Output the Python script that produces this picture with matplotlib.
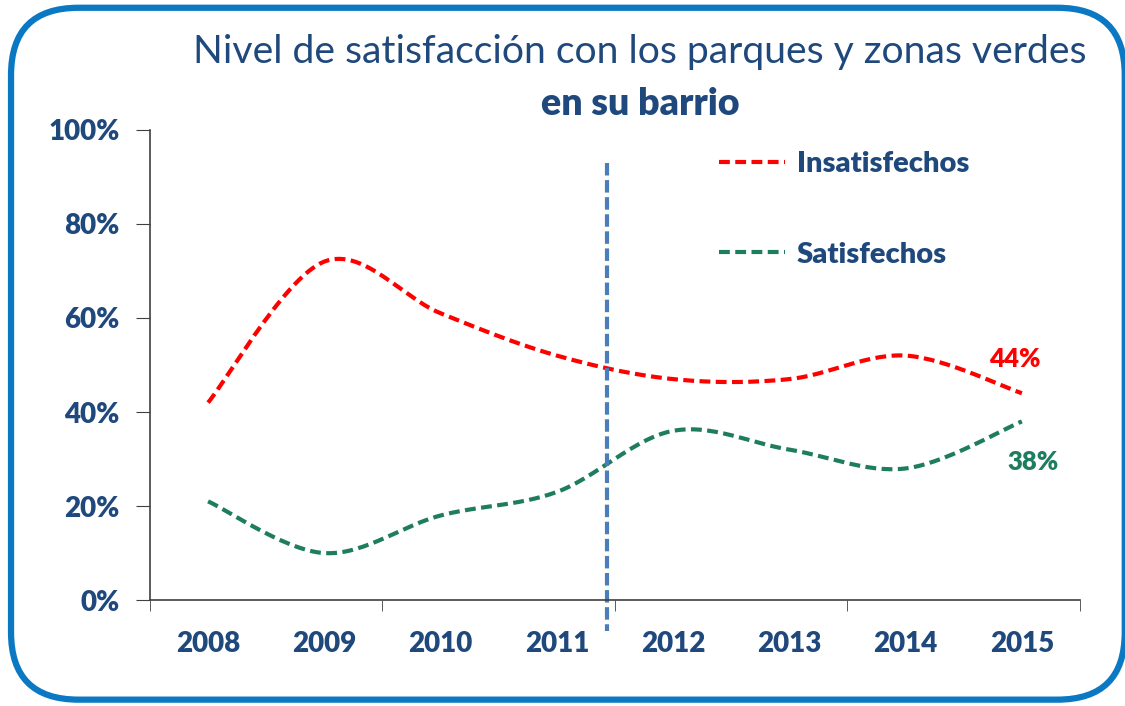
import numpy as np
import matplotlib
matplotlib.use("Agg")
import matplotlib.pyplot as plt
from matplotlib.patches import FancyBboxPatch

plt.rcParams['font.family'] = ['Lato', 'DejaVu Sans']

years = ['2008', '2009', '2010', '2011', '2012', '2013', '2014', '2015']
insatisfechos = [42, 72, 61, 52, 47, 47, 52, 44]
satisfechos = [21, 10, 18, 23, 36, 32, 28, 38]
yticks = [0, 20, 40, 60, 80, 100]

azul = '#1F497D'
rojo = '#FF0000'
verde = '#1F7D5F'


def suavizar(y, n=30):
    # curva tipo Catmull-Rom entre puntos consecutivos
    y = np.asarray(y, dtype=float)
    x = np.arange(len(y), dtype=float)
    px = np.concatenate([[x[0]], x, [x[-1]]])
    py = np.concatenate([[y[0]], y, [y[-1]]])
    xs, ys = [], []
    for i in range(1, len(px) - 2):
        t = np.linspace(0, 1, n, endpoint=False)
        for p, out in ((px, xs), (py, ys)):
            p0, p1, p2, p3 = p[i - 1], p[i], p[i + 1], p[i + 2]
            out.extend(0.5 * ((2 * p1) + (-p0 + p2) * t
                              + (2 * p0 - 5 * p1 + 4 * p2 - p3) * t ** 2
                              + (-p0 + 3 * p1 - 3 * p2 + p3) * t ** 3))
    xs.append(x[-1])
    ys.append(y[-1])
    return np.array(xs), np.array(ys)


fig = plt.figure(figsize=(11.25, 7.06), dpi=100)
ax = fig.add_axes([0.1333, 0.150, 0.8267, 0.666])

x1, y1 = suavizar(insatisfechos)
x2, y2 = suavizar(satisfechos)
l1, = ax.plot(x1, y1, color=rojo, lw=3, ls=(0, (2.6, 1.3)), label='Insatisfechos')
l2, = ax.plot(x2, y2, color=verde, lw=3, ls=(0, (2.6, 1.3)), label='Satisfechos')

# separación entre 2011 y 2012
ax.plot([3.43, 3.43], [93, -6.5], color='#4A7EBB', lw=3, ls=(0, (3, 1.1)),
        clip_on=False)

ax.set_xlim(-0.5, 7.5)
ax.set_ylim(0, 100)
ax.set_yticks(yticks)
ax.set_yticklabels([f'{v}%' for v in yticks])
ax.set_xticks(np.arange(len(years)))
ax.set_xticklabels(years)
ax.set_xticks(np.arange(-0.5, 7.6, 2), minor=True)
ax.tick_params(axis='x', which='major', length=0, pad=22)
ax.tick_params(axis='x', which='minor', length=8, direction='out', color='#404040')
ax.tick_params(axis='y', length=10, direction='out', color='#404040', pad=12)
for lab in ax.get_xticklabels() + ax.get_yticklabels():
    lab.set_fontsize(20)
    lab.set_fontweight('heavy')
    lab.set_color(azul)

for s in ['top', 'right']:
    ax.spines[s].set_visible(False)
for s in ['left', 'bottom']:
    ax.spines[s].set_color('#404040')
    ax.spines[s].set_linewidth(1.2)

ax.text(6.94, insatisfechos[-1] + 7.2, f'{insatisfechos[-1]}%', color=rojo,
        fontsize=18.5, fontweight='heavy', ha='center', va='center')
ax.text(7.1, satisfechos[-1] - 8.7, f'{satisfechos[-1]}%', color=verde,
        fontsize=18.5, fontweight='heavy', ha='center', va='center')

leg = ax.legend(handles=[l1, l2], loc='upper left', bbox_to_anchor=(0.584, 1.01),
                frameon=False, handlelength=2.25, handletextpad=0.4,
                labelspacing=2.2, prop={'size': 21, 'weight': 'heavy'})
for t in leg.get_texts():
    t.set_color(azul)

fig.text(0.569, 0.927, 'Nivel de satisfacción con los parques y zonas verdes',
         ha='center', va='center', fontsize=28.2, color=azul)
fig.text(0.569, 0.853, 'en su barrio', ha='center', va='center',
         fontsize=27, fontweight='heavy', color=azul)

marco = FancyBboxPatch((0.0098, 0.009), 0.99, 0.98,
                       boxstyle='round,pad=0,rounding_size=0.06',
                       transform=fig.transFigure, fill=False,
                       edgecolor='#0A78C2', lw=4.5, mutation_aspect=1.59)
fig.patches.append(marco)

fig.savefig('out.png', dpi=100)
